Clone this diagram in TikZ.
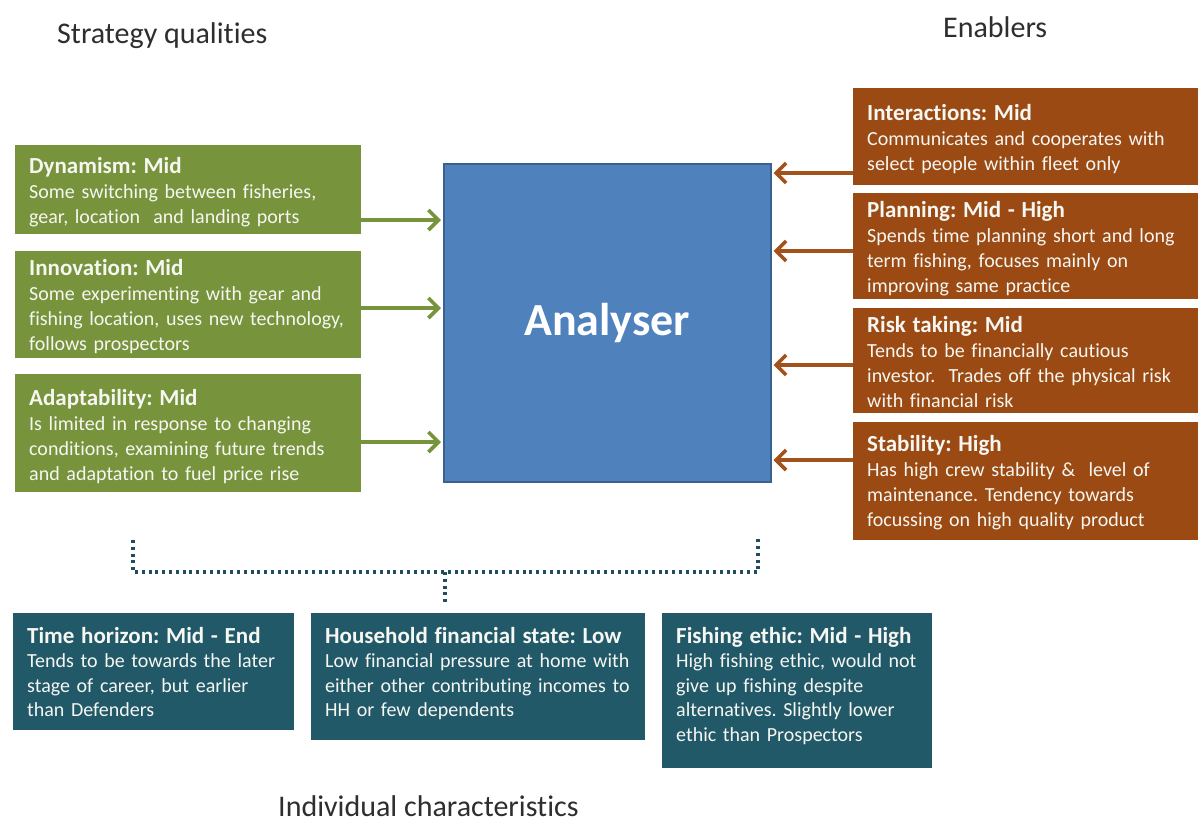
\documentclass[tikz,border=0pt]{standalone}
\usepackage{fontspec}
\setmainfont{Carlito}[Ligatures=NoCommon]
\usetikzlibrary{arrows.meta}
\frenchspacing

\definecolor{qualgreen}{HTML}{77933C}
\definecolor{enborange}{HTML}{9A4A12}
\definecolor{enbarrow}{HTML}{A4521C}
\definecolor{charteal}{HTML}{215968}
\definecolor{corefill}{HTML}{4F81BD}
\definecolor{coreline}{HTML}{3A6090}
\definecolor{cardink}{HTML}{F6F6F2}
\definecolor{titleink}{HTML}{2E2E2E}
\definecolor{dotink}{HTML}{1F4E5F}

\newcommand\cardhead[1]{{\bfseries\fontsize{23}{25}\selectfont #1}\\}

\tikzset{
  card/.style={anchor=north west, inner sep=0pt, outer sep=0pt, draw=none},
  gcard/.style={card, fill=qualgreen},
  ocard/.style={card, fill=enborange},
  tcard/.style={card, fill=charteal},
  cardtxt/.style={anchor=base west, inner sep=0pt, text width=#1, align=left,
    text=cardink, font=\fontsize{20}{25}\selectfont},
  tcardtxt/.style={cardtxt=#1, font=\fontsize{20}{24.5}\selectfont},
  title/.style={anchor=base west, inner sep=0pt, text=titleink,
    font=\fontsize{30}{34}\selectfont},
  garrow/.style={draw=qualgreen, line width=3.6pt, shorten >=2pt,
    -{Straight Barb[length=10pt, width=20pt]}},
  oarrow/.style={draw=enbarrow, line width=3.6pt, shorten >=2pt,
    -{Straight Barb[length=10pt, width=20pt]}},
  dotline/.style={draw=dotink, line width=3.2pt, dash pattern=on 3pt off 3.8pt}
}

\begin{document}
\begin{tikzpicture}[x=1pt, y=-1pt]
\useasboundingbox[fill=white] (0,0) rectangle (1203,828);

% section titles
\node[title] (tq) at (57,43) {Strategy qualities};
\node[title] (en) at (943,37) {Enablers};
\node[title] (ic) at (278,816) {Individual characteristics};

% central strategy type
\node[anchor=north west, inner sep=0pt, fill=corefill, draw=coreline, line width=1.5pt,
      minimum width=327pt, minimum height=318pt, text=white,
      font=\bfseries\fontsize{46}{50}\selectfont] (core) at (443,163) {Analyser};

% strategy qualities (left column)
\node[gcard, minimum width=346pt, minimum height=89pt] (dyn) at (15,145) {};
\node[cardtxt=330pt] (dyn-t) at ([shift={(14pt,-28pt)}]dyn.north west)
  {\cardhead{Dynamism: Mid}Some switching between fisheries,\\gear, location~ and landing ports};

\node[gcard, minimum width=346pt, minimum height=107pt] (inn) at (15,251) {};
\node[cardtxt=330pt] (inn-t) at ([shift={(14pt,-24pt)}]inn.north west)
  {\cardhead{Innovation: Mid}Some experimenting with gear and\\fishing location, uses new technology,\\follows prospectors};

\node[gcard, minimum width=346pt, minimum height=118pt] (ada) at (15,374) {};
\node[cardtxt=330pt] (ada-t) at ([shift={(14pt,-31pt)}]ada.north west)
  {\cardhead{Adaptability: Mid}Is limited in response to changing\\conditions, examining future trends\\and adaptation to fuel price rise};

% enablers (right column)
\node[ocard, minimum width=345pt, minimum height=97pt] (int) at (853,88) {};
\node[cardtxt=330pt] (int-t) at ([shift={(14pt,-32pt)}]int.north west)
  {\cardhead{Interactions: Mid}Communicates and cooperates with\\select people within fleet only};

\node[ocard, minimum width=345pt, minimum height=106pt] (plan) at (853,193) {};
\node[cardtxt=330pt] (plan-t) at ([shift={(14pt,-24pt)}]plan.north west)
  {\cardhead{Planning: Mid - High}Spends time planning short and long\\term fishing, focuses mainly on\\improving same practice};

\node[ocard, minimum width=345pt, minimum height=105pt] (risk) at (853,308) {};
\node[cardtxt=330pt] (risk-t) at ([shift={(14pt,-24pt)}]risk.north west)
  {\cardhead{Risk taking: Mid}Tends to be financially cautious\\investor.~ Trades off the physical risk\\with financial risk};

\node[ocard, minimum width=345pt, minimum height=118pt] (stab) at (853,422) {};
\node[cardtxt=330pt] (stab-t) at ([shift={(14pt,-29pt)}]stab.north west)
  {\cardhead{Stability: High}Has high crew stability \&~ level of\\maintenance. Tendency towards\\focussing on high quality product};

% individual characteristics (bottom row)
\node[tcard, minimum width=281pt, minimum height=117pt] (time) at (13,613) {};
\node[tcardtxt=265pt] (time-t) at ([shift={(14pt,-30pt)}]time.north west)
  {\cardhead{Time horizon: Mid - End}Tends to be towards the later\\stage of career, but earlier\\than Defenders};

\node[tcard, minimum width=334pt, minimum height=127pt] (hh) at (311,613) {};
\node[tcardtxt=318pt] (hh-t) at ([shift={(14pt,-30pt)}]hh.north west)
  {\cardhead{Household financial state: Low}Low financial pressure at home with\\either other contributing incomes to\\HH or few dependents};

\node[tcard, minimum width=270pt, minimum height=155pt] (eth) at (662,613) {};
\node[tcardtxt=254pt] (eth-t) at ([shift={(14pt,-30pt)}]eth.north west)
  {\cardhead{Fishing ethic: Mid - High}High fishing ethic, would not\\give up fishing despite\\alternatives. Slightly lower\\ethic than Prospectors};

% qualities feed the strategy
\draw[garrow] (dyn.east |- 0,220) -- (core.west |- 0,220);
\draw[garrow] (inn.east |- 0,308) -- (core.west |- 0,308);
\draw[garrow] (ada.east |- 0,442) -- (core.west |- 0,442);

% enablers feed the strategy
\draw[oarrow] (int.west |- 0,173) -- (core.east |- 0,173);
\draw[oarrow] (plan.west |- 0,251) -- (core.east |- 0,251);
\draw[oarrow] (risk.west |- 0,365) -- (core.east |- 0,365);
\draw[oarrow] (stab.west |- 0,460) -- (core.east |- 0,460);

% dotted bracket joining the characteristics to the upper part
\coordinate (brL) at (133,540);
\coordinate (brR) at (758,537);
\coordinate (brM) at (445,572);
\coordinate (brS) at (445,604);
\draw[dotline] (brL) -- (brL |- brM) -- (brR |- brM) -- (brR);
\draw[dotline] (brM) -- (brS);
\end{tikzpicture}
\end{document}
